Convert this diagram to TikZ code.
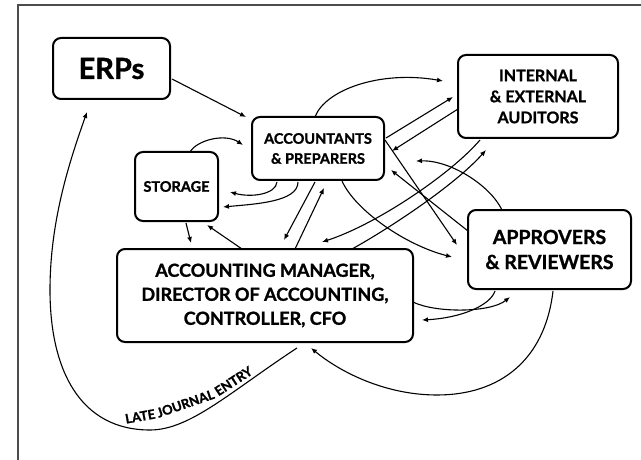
\documentclass[tikz,border=0pt]{standalone}
\usepackage{fontspec}
\setmainfont{Lato}[BoldFeatures={FakeBold=1.2}]
\usetikzlibrary{arrows.meta,calc}
\begin{document}
\begin{tikzpicture}[x=1pt,y=-1pt,
  box/.style={draw, line width=2pt, rounded corners=8pt, inner sep=0pt, outer sep=0pt, align=center},
  conn/.style={line width=1.1pt, -{Latex[length=6pt,width=5pt]}},
  lbl/.style={inner sep=0pt, anchor=base, font=\bfseries\fontsize{13}{13}\selectfont}]
\useasboundingbox (0,0) rectangle (641,460);
\draw[gray!60!black, line width=1.5pt] (18,460) -- (18,5) -- (641,5);

\node[box, minimum width=117pt, minimum height=61pt, font=\bfseries\fontsize{29}{29}\selectfont] (erp) at (111.5,68.5) {ERPs};
\node[box, minimum width=132pt, minimum height=63pt, font=\bfseries\fontsize{14.5}{20}\selectfont] (acc) at (318,148.5) {ACCOUNTANTS\\\& PREPARERS};
\node[box, minimum width=83pt, minimum height=69pt, font=\bfseries\fontsize{14.5}{18}\selectfont] (sto) at (176.5,186.5) {STORAGE};
\node[box, minimum width=160pt, minimum height=83pt, font=\bfseries\fontsize{16}{21}\selectfont] (aud) at (538,96.5) {INTERNAL\\\& EXTERNAL\\AUDITORS};
\node[box, minimum width=163pt, minimum height=79pt, font=\bfseries\fontsize{19.5}{25}\selectfont] (app) at (549.5,249.5) {APPROVERS\\\& REVIEWERS};
\node[box, minimum width=296pt, minimum height=93pt, font=\bfseries\fontsize{18}{24}\selectfont] (mgr) at (265,295.5) {ACCOUNTING MANAGER,\\DIRECTOR OF ACCOUNTING,\\CONTROLLER, CFO};

\coordinate (b17) at (437,395);
\coordinate (b18a) at (150,430);
\coordinate (b18b) at (50,290);

% ERPs -> accountants
\draw[conn] ($(erp.north east)+(2,41)$) -- ($(acc.north west)+(-6,0)$);
% storage -> accountants
\draw[conn] ($(sto.north west)+(55,0)$) .. controls (197,140) and (225,133) .. ($(acc.north west)+(-9,28)$);
% accountants -> storage
\draw[conn] ($(acc.south west)+(25,2)$) .. controls (276,194) and (252,198) .. ($(sto.north east)+(12,40)$);
\draw[conn] ($(acc.south west)+(46,2)$) .. controls (298,202) and (255,204) .. ($(sto.south east)+(5,-14)$);
% storage <-> manager
\draw[conn] ($(sto.south west)+(51,2)$) -- ($(mgr.north west)+(74,-6)$);
\draw[conn] ($(mgr.north west)+(125,0)$) -- ($(sto.south east)+(-11,4)$);
% accountants <-> manager
\draw[conn] ($(acc.south west)+(63,2)$) -- ($(mgr.north west)+(167,-9)$);
\draw[conn] ($(mgr.north west)+(178,0)$) -- ($(acc.south west)+(72,8)$);
% accountants <-> auditors
\draw[conn] ($(acc.north west)+(63,0)$) .. controls (325,90) and (380,70) .. ($(aud.north west)+(-15,26)$);
\draw[conn] ($(acc.north east)+(2,21)$) -- ($(aud.north west)+(-5,42)$);
\draw[conn] ($(aud.north west)+(0,54)$) -- ($(acc.north east)+(8,34)$);
% auditors <-> manager
\draw[conn] ($(aud.south west)+(22,2)$) .. controls (450,175) and (375,225) .. ($(mgr.north east)+(-91,-7)$);
\draw[conn] ($(mgr.north west)+(235,0)$) .. controls (390,228) and (455,185) .. ($(aud.south west)+(28,12)$);
% accountants <-> approvers
\draw[conn] ($(acc.north east)+(1,23)$) -- ($(app.north west)+(-11,35)$);
\draw[conn] ($(app.north west)+(0,21)$) -- ($(acc.north east)+(7,53)$);
\draw[conn] ($(app.north west)+(34,0)$) .. controls (490,185) and (450,160) .. ($(acc.north east)+(32,44)$);
\draw[conn] ($(acc.south west)+(90,1)$) .. controls (355,210) and (405,245) .. ($(app.north west)+(-16,47)$);
% manager <-> approvers
\draw[conn] ($(mgr.north east)+(0,53)$) .. controls (435,313) and (490,313) .. ($(app.south west)+(42,8)$);
\draw[conn] ($(app.south west)+(27,2)$) .. controls (490,306) and (460,318) .. ($(mgr.south east)+(9,-22)$);
\draw[conn] ($(app.south west)+(85,2)$) .. controls (545,360) and (500,395) .. (b17) .. controls (385,395) and (340,372) .. ($(mgr.south west)+(194,6)$);
% late journal entry
\draw[conn] ($(mgr.south west)+(180,6)$) .. controls (230,392) and (190,430) .. (b18a) .. controls (80,430) and (50,370) .. (b18b) .. controls (50,220) and (70,160) .. ($(erp.south west)+(34,13)$);
\node[lbl, rotate=10] (lateA) at (141,421) {LATE};
\node[lbl, rotate=19] (lateB) at (187,408) {JOURNAL};
\node[lbl, rotate=33] (lateC) at (236,385) {ENTRY};
\end{tikzpicture}
\end{document}
